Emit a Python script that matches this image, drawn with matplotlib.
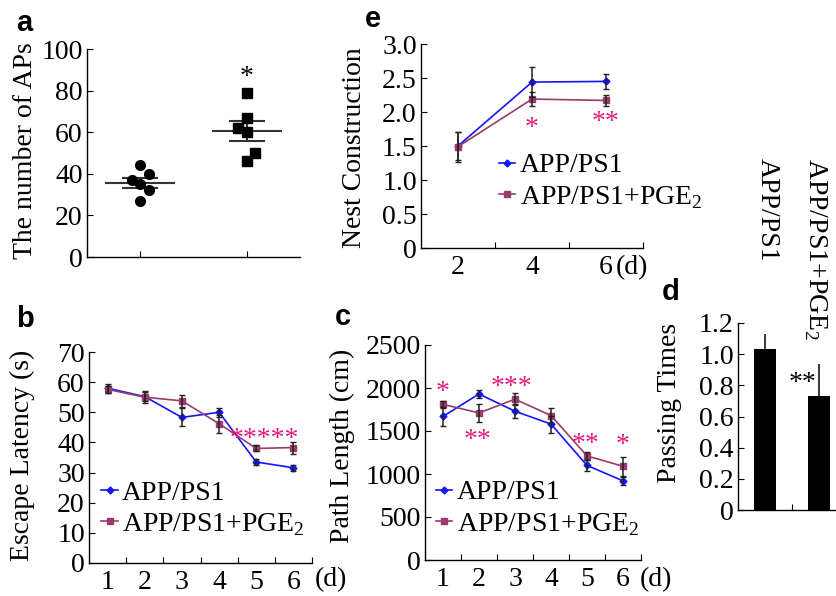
import matplotlib
matplotlib.use('Agg')
import matplotlib.pyplot as plt
import numpy as np

# ---- data ----
# a: number of APs (individual animals)
a_grp1_x = [1.0, 1.08, 0.92, 1.0, 1.08, 1.0]
a_grp1_y = [44, 40, 37, 35, 32, 27]
a_grp2_x = [2.0, 2.0, 1.92, 2.0, 2.08, 2.0]
a_grp2_y = [79, 67, 62, 60, 50, 46]
a_mean = [35.7, 60.6]
a_sem = [2.5, 5.0]

# e: nest construction
e_days = ['2', '4', '6']
e_app = [1.50, 2.44, 2.45]
e_app_err = [0.20, 0.22, 0.11]
e_pge = [1.49, 2.19, 2.17]
e_pge_err = [0.22, 0.10, 0.08]

# b: escape latency
mwm_days = ['1', '2', '3', '4', '5', '6']
b_app = [58.0, 55.2, 48.3, 50.0, 33.5, 31.6]
b_app_err = [1.5, 1.5, 3.0, 1.5, 1.0, 1.0]
b_pge = [57.6, 55.0, 53.8, 46.2, 38.0, 38.3]
b_pge_err = [1.2, 2.0, 2.0, 3.0, 1.0, 2.0]

# c: path length
c_app = [1670, 1930, 1730, 1580, 1100, 920]
c_app_err = [110, 50, 80, 100, 60, 50]
c_pge = [1810, 1710, 1870, 1680, 1210, 1090]
c_pge_err = [40, 100, 70, 90, 50, 110]

# d: passing times
d_groups = ['APP/PS1', 'APP/PS1+PGE$_2$']
d_vals = [1.03, 0.73]
d_err = [0.10, 0.21]

BLUE = '#1414FF'
PURPLE = '#9B3A6C'
STAR = '#E3197B'

plt.rcParams['font.family'] = 'Liberation Serif'
plt.rcParams['mathtext.fontset'] = 'custom'
plt.rcParams['mathtext.rm'] = 'Liberation Serif'
plt.rcParams['axes.linewidth'] = 1.0

W, H = 836, 596
FS = 20
fig = plt.figure(figsize=(W / 100, H / 100), dpi=100)


def add_ax(l, t, r, b):
    ax = fig.add_axes([l / W, 1 - b / H, (r - l) / W, (b - t) / H])
    for s in ('top', 'right'):
        ax.spines[s].set_visible(False)
    ax.tick_params(axis='y', direction='in', length=4, labelsize=FS, pad=3)
    return ax


def cat_axis(ax, labels):
    n = len(labels)
    ax.set_xlim(0.5, n + 0.5)
    ax.set_xticks(np.arange(1.5, n + 0.6, 1))
    ax.set_xticklabels([])
    ax.set_xticks(np.arange(1, n + 1), minor=True)
    ax.set_xticklabels(labels, minor=True)
    ax.tick_params(axis='x', which='major', direction='in', length=4)
    ax.tick_params(axis='x', which='minor', length=0, pad=5, labelsize=FS)


def ftext(x, y, s, **kw):
    fig.text(x / W, 1 - y / H, s, **kw)


def stars(ax, x, y, s):
    ax.annotate(s, xy=(x, y), xytext=(0, -9), textcoords='offset points',
                ha='center', va='baseline', color=STAR, fontsize=FS)


def two_lines(ax, app, app_err, pge, pge_err):
    x = np.arange(1, len(app) + 1)
    l1, = ax.plot(x, app, color=BLUE, lw=1.2, marker='D', ms=3.5, zorder=3)
    l2, = ax.plot(x, pge, color=PURPLE, lw=1.2, marker='s', ms=4, zorder=3)
    ax.errorbar(x, app, yerr=app_err, fmt='none', ecolor='#222', elinewidth=1.1,
                capsize=2.5, zorder=4)
    ax.errorbar(x, pge, yerr=pge_err, fmt='none', ecolor='#222', elinewidth=1.1,
                capsize=2.5, zorder=4)
    return l1, l2


def legend(ax, handles, x, y):
    ax.legend(handles, ['APP/PS1', 'APP/PS1+PGE$_2$'], loc='upper left',
              bbox_to_anchor=(x, y), frameon=False, fontsize=FS,
              handlelength=0.6, handletextpad=0.15, borderpad=0,
              borderaxespad=0, labelspacing=0.2)


# ---- a ----
ax = add_ax(87, 49, 300, 257)
ax.set_xlim(0.5, 2.5)
ax.set_ylim(0, 100)
ax.set_yticks(range(0, 101, 20))
ax.set_xticks([1, 2])
ax.set_xticklabels([])
ax.tick_params(axis='x', direction='in', length=4)
ax.plot(a_grp1_x, a_grp1_y, 'o', color='black', ms=7, zorder=3)
ax.plot(a_grp2_x, a_grp2_y, 's', color='black', ms=6.5, zorder=3)
for i, (m, s) in enumerate(zip(a_mean, a_sem)):
    c = i + 1
    ax.hlines(m, c - 0.33, c + 0.33, color='#333', lw=1.5)
    ax.hlines([m - s, m + s], c - 0.17, c + 0.17, color='#333', lw=1.5)
    ax.vlines(c, m - s, m + s, color='#333', lw=1.5)
ax.annotate('*', xy=(2, 89), xytext=(0, -9), textcoords='offset points',
            ha='center', va='baseline', color='black', fontsize=FS)
ax.set_ylabel('The number of APs', fontsize=FS)
ax.yaxis.set_label_coords(-0.23, 0.51)

# ---- e ----
ax = add_ax(421, 44, 643, 248)
cat_axis(ax, e_days)
ax.set_ylim(0, 3.0)
ax.set_yticks(np.arange(0, 3.01, 0.5))
ax.set_yticklabels(['0', '0.5', '1.0', '1.5', '2.0', '2.5', '3.0'])
h = two_lines(ax, e_app, e_app_err, e_pge, e_pge_err)
stars(ax, 2, 1.85, '*')
stars(ax, 3, 1.93, '**')
legend(ax, h, 0.35, 0.466)
ax.set_ylabel('Nest Construction', fontsize=FS)
ax.yaxis.set_label_coords(-0.245, 0.49)
ftext(632, 268, '(d)', fontsize=FS, ha='center', va='center')

# ---- b ----
ax = add_ax(89, 352, 312, 563)
cat_axis(ax, mwm_days)
ax.set_ylim(0, 70)
ax.set_yticks(range(0, 71, 10))
h = two_lines(ax, b_app, b_app_err, b_pge, b_pge_err)
stars(ax, 5.23, 43, '*****')
legend(ax, h, 0.055, 0.393)
ax.set_ylabel('Escape Latency (s)', fontsize=FS)
ax.yaxis.set_label_coords(-0.242, 0.51)
ftext(331, 580, '(d)', fontsize=FS, ha='center', va='center')

# ---- c ----
ax = add_ax(425, 345, 641, 560)
cat_axis(ax, mwm_days)
ax.set_ylim(0, 2500)
ax.set_yticks(range(0, 2501, 500))
h = two_lines(ax, c_app, c_app_err, c_pge, c_pge_err)
stars(ax, 1.0, 2015, '*')
stars(ax, 1.95, 1455, '**')
stars(ax, 2.9, 2075, '***')
stars(ax, 4.95, 1410, '**')
stars(ax, 6.0, 1400, '*')
legend(ax, h, 0.05, 0.372)
ax.set_ylabel('Path Length (cm)', fontsize=FS)
ax.yaxis.set_label_coords(-0.324, 0.53)
ftext(656, 580, '(d)', fontsize=FS, ha='center', va='center')

# ---- d ----
ax = add_ax(738, 323, 835, 510)
ax.set_xlim(0.5, 2.3)
ax.set_ylim(0, 1.2)
ax.set_yticks(np.arange(0, 1.21, 0.2))
ax.set_yticklabels(['0', '0.2', '0.4', '0.6', '0.8', '1.0', '1.2'])
ax.set_xticks([1.5])
ax.set_xticklabels([])
ax.tick_params(axis='x', direction='in', length=4)
xd = np.arange(1, len(d_vals) + 1)
ax.bar(xd, d_vals, width=0.4, color='black')
ax.errorbar(xd, d_vals, yerr=[[0] * len(d_err), d_err], fmt='none',
            ecolor='black', elinewidth=1.1, capsize=0)
ax.annotate('**', xy=(1.7, 0.85), xytext=(0, -9), textcoords='offset points',
            ha='center', va='baseline', color='black', fontsize=FS)
ax.set_ylabel('Passing Times', fontsize=FS)
ax.yaxis.set_label_coords(-0.577, 0.57)
ftext(767, 158, d_groups[0], fontsize=FS, rotation=-90, ha='center', va='top')
ftext(815, 158, d_groups[1], fontsize=FS, rotation=-90, ha='center', va='top')

# ---- panel letters ----
for x, y, s in [(24, 31, 'a'), (373, 27, 'e'), (25, 327, 'b'),
                (343, 325, 'c'), (671, 300, 'd')]:
    ftext(x, y, s, fontsize=21, fontweight='bold', family='Liberation Sans',
          ha='center', va='baseline')

fig.savefig('out.png', dpi=100)
